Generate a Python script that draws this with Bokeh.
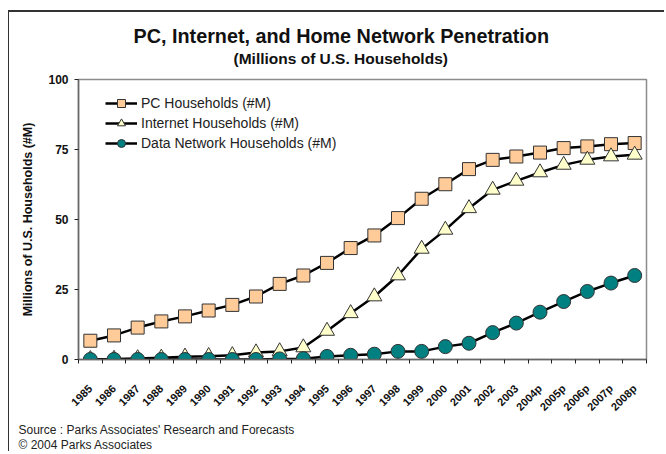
from math import pi
from bokeh.plotting import figure
from bokeh.models import (ColumnDataSource, Range1d, FixedTicker, Title, Legend, LegendItem)
from bokeh.embed import file_html
from bokeh.resources import INLINE

years = ["1985", "1986", "1987", "1988", "1989", "1990", "1991", "1992", "1993",
         "1994", "1995", "1996", "1997", "1998", "1999", "2000", "2001", "2002",
         "2003", "2004p", "2005p", "2006p", "2007p", "2008p"]
pc_households = [6.7, 8.6, 11.4, 13.6, 15.4, 17.5, 19.5, 22.5, 27.0, 30.0, 34.5, 39.8,
                 44.3, 50.5, 57.4, 62.6, 68.0, 71.3, 72.5, 73.9, 75.5, 76.1, 76.9, 77.3]
internet_households = [0.1, 0.2, 0.4, 0.6, 1.0, 1.2, 1.5, 2.5, 2.9, 4.3, 10.2, 16.5,
                       22.5, 30.0, 39.5, 46.3, 54.0, 60.6, 63.8, 66.8, 69.5, 71.3, 72.5, 73.1]
network_households = [0.0, 0.0, 0.0, 0.0, 0.0, 0.0, 0.0, 0.0, 0.2, 0.3, 1.1, 1.5,
                      1.9, 2.9, 2.9, 4.6, 5.8, 9.6, 13.0, 16.9, 20.7, 24.3, 27.3, 30.0]
y_ticks = [0, 25, 50, 75, 100]

idx = list(range(len(years)))
src = ColumnDataSource(dict(x=idx, pc=pc_households, inet=internet_households,
                            net=network_households))

p = figure(width=656, height=441, output_backend="svg", toolbar_location=None, title=None,
           x_range=Range1d(-0.5, len(years) - 0.5), y_range=Range1d(0, 100),
           min_border_left=69, min_border_right=19, min_border_top=67, min_border_bottom=94,
           background_fill_color="white", border_fill_color="white",
           styles={"margin-left": "8px", "margin-top": "10px",
                   "border-top": "2px solid #333", "border-left": "1px solid #333"})
p.xgrid.visible = False
p.ygrid.visible = False
p.outline_line_color = "#8c8c8c"
p.outline_line_width = 1.5

FONT = "Liberation Sans"

xa = p.xaxis[0]
xa.ticker = FixedTicker(ticks=idx, minor_ticks=[i - 0.5 for i in range(len(years) + 1)])
xa.major_label_overrides = {i: y for i, y in enumerate(years)}
xa.major_tick_out = 0
xa.major_tick_in = 0
xa.minor_tick_out = 4
xa.minor_tick_in = 0
xa.minor_tick_line_color = "#222"
xa.axis_line_color = "#666"
xa.axis_line_width = 1.5
xa.major_label_orientation = pi / 4
xa.major_label_standoff = 23
xa.major_label_text_font = FONT
xa.major_label_text_font_style = "bold"
xa.major_label_text_font_size = "11px"
xa.major_label_text_color = "#111"

ya = p.yaxis[0]
ya.ticker = FixedTicker(ticks=y_ticks)
ya.minor_tick_line_color = None
ya.major_tick_out = 4
ya.major_tick_in = 0
ya.major_tick_line_color = "#222"
ya.axis_line_color = "#666"
ya.axis_line_width = 1.5
ya.major_label_standoff = 6
ya.major_label_text_font = FONT
ya.major_label_text_font_style = "bold"
ya.major_label_text_font_size = "12px"
ya.major_label_text_color = "#111"
ya.axis_label = "Millions of U.S. Households (#M)"
ya.axis_label_text_font = FONT
ya.axis_label_text_font_style = "bold"
ya.axis_label_text_font_size = "12.5px"
ya.axis_label_text_color = "#111"
ya.axis_label_standoff = 10

l1 = p.line("x", "pc", source=src, line_color="black", line_width=2.5)
m1 = p.scatter("x", "pc", source=src, marker="square", size=13,
               fill_color="#FFCC99", line_color="#333", line_width=1)
l2 = p.line("x", "inet", source=src, line_color="black", line_width=2.5)
m2 = p.scatter("x", "inet", source=src, marker="triangle", size=15,
               fill_color="#FFFFCC", line_color="#333", line_width=1)
l3 = p.line("x", "net", source=src, line_color="black", line_width=2.5)
m3 = p.scatter("x", "net", source=src, marker="circle", size=14,
               fill_color="#008080", line_color="#333", line_width=1)

legend = Legend(items=[
    LegendItem(label="PC Households (#M)", renderers=[l1, m1]),
    LegendItem(label="Internet Households (#M)", renderers=[l2, m2]),
    LegendItem(label="Data Network Households (#M)", renderers=[l3, m3]),
], location=(27, 206), padding=0, margin=0, spacing=0,
    glyph_width=32, glyph_height=20, label_height=20, label_standoff=4,
    label_text_font=FONT, label_text_font_size="14px", label_text_color="#222",
    border_line_color=None, background_fill_alpha=0)
p.add_layout(legend, "center")

# above panels stack outward from the plot area: spacer, subtitle, title
p.add_layout(Title(text=" ", text_font_size="1px", standoff=10), "above")
p.add_layout(Title(text="(Millions of U.S. Households)", align="left", offset=155,
                   standoff=0, text_font=FONT, text_font_style="bold",
                   text_font_size="15.5px", text_color="#111"), "above")
p.add_layout(Title(text="PC, Internet, and Home Network Penetration", align="left",
                   offset=55, standoff=2, text_font=FONT, text_font_style="bold",
                   text_font_size="19.8px", text_color="#111"), "above")

# source notes below
p.add_layout(Title(text="Source :  Parks Associates' Research and Forecasts\n"
                        "\u00a9 2004 Parks Associates",
                   align="left", offset=-60, standoff=2, text_font=FONT,
                   text_font_style="normal", text_font_size="12px",
                   text_line_height=1.1, text_color="#222"), "below")

open("out.html", "w").write(file_html(p, INLINE))
